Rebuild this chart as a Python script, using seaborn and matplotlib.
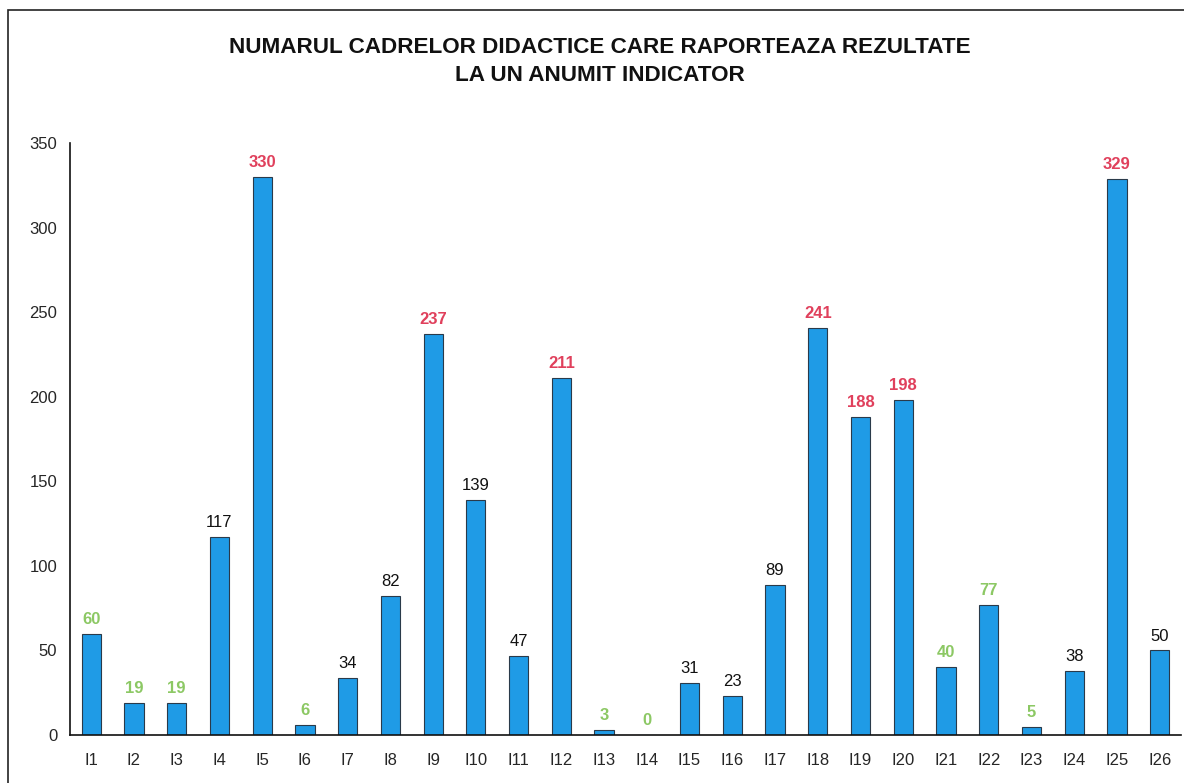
import matplotlib
matplotlib.use("Agg")
import matplotlib.pyplot as plt
import seaborn as sns
import pandas as pd
from matplotlib.patches import Rectangle

# data
indicators = [f"I{i}" for i in range(1, 27)]
values = [60, 19, 19, 117, 330, 6, 34, 82, 237, 139, 47, 211, 3, 0,
          31, 23, 89, 241, 188, 198, 40, 77, 5, 38, 329, 50]
# label colour group for each bar: r = red, g = green, k = black
label_groups = ["g", "g", "g", "k", "r", "g", "k", "k", "r", "k", "k", "r", "g", "g",
                "k", "k", "k", "r", "r", "r", "g", "g", "g", "k", "r", "k"]

df = pd.DataFrame({"indicator": indicators, "value": values})

sns.set_style("white")
plt.rcParams["font.family"] = ["Liberation Sans", "DejaVu Sans"]

fig = plt.figure(figsize=(11.84, 7.83), dpi=100)
ax = fig.add_axes([0.059, 0.0613, 0.9385, 0.7557])

sns.barplot(data=df, x="indicator", y="value", color="#1f9be6", width=0.45,
            edgecolor="#2a3a4a", linewidth=0.8, saturation=1, ax=ax)

label_colors = {"r": "#e0405c", "g": "#8cc864", "k": "#111111"}
for i, (v, g) in enumerate(zip(values, label_groups)):
    ax.annotate(str(v), (i, v), xytext=(0, 5), textcoords="offset points",
                ha="center", va="bottom", fontsize=12,
                color=label_colors[g], fontweight="normal" if g == "k" else "bold")

ax.set_ylim(0, 350)
ax.set_xlim(-0.5, 25.5)
ax.set_yticks(range(0, 351, 50))
ax.set_xlabel("")
ax.set_ylabel("")
ax.tick_params(axis="y", direction="out", length=5, width=1, labelsize=12, pad=4, color="#111111")
ax.tick_params(axis="x", which="major", length=0, labelsize=12, pad=13)
ax.set_xticks([i + 0.5 for i in range(25)], minor=True)
ax.tick_params(axis="x", which="minor", direction="out", length=5, width=1, color="#111111")
for s in ["top", "right"]:
    ax.spines[s].set_visible(False)
for s in ["left", "bottom"]:
    ax.spines[s].set_color("#111111")
    ax.spines[s].set_linewidth(1.2)

fig.text(0.507, 0.921, "NUMARUL CADRELOR DIDACTICE CARE RAPORTEAZA REZULTATE\nLA UN ANUMIT INDICATOR",
         ha="center", va="center", fontsize=16.2, fontweight="bold", linespacing=1.45, color="#111111")

# chart frame
fig.patches.append(Rectangle((8 / 1184, -0.1), 1.2, 1.1 - 10 / 783, transform=fig.transFigure,
                             fill=False, edgecolor="#222222", linewidth=1.2))

fig.savefig("out.png", dpi=100)
